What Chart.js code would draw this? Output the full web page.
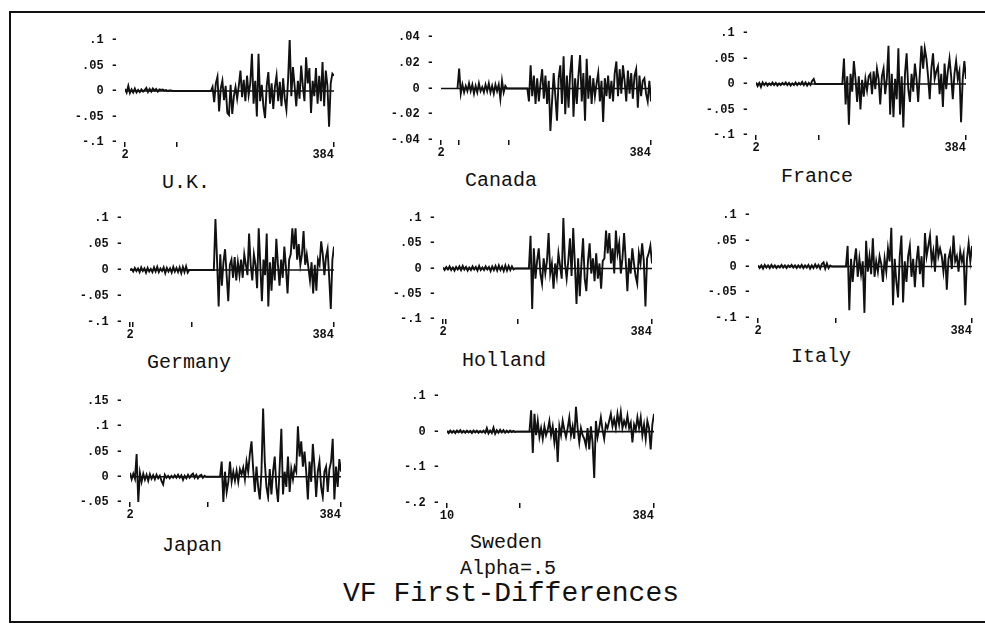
<!DOCTYPE html>
<html><head><meta charset="utf-8">
<script src="https://cdn.jsdelivr.net/npm/chart.js@4.4.0/dist/chart.umd.min.js"></script>
<style>
html,body{margin:0;padding:0;background:#fff;}
body{width:985px;height:627px;position:relative;overflow:hidden;font-family:"Liberation Mono",monospace;}
.frame{position:absolute;left:9px;top:11px;width:990px;height:608px;border-left:2px solid #111;border-top:2px solid #111;border-bottom:2px solid #111;}
canvas{position:absolute;}
.lbl{position:absolute;transform:translate(-50%,-50%);font-size:20px;color:#111;white-space:pre;line-height:1;}
.title{font-size:28px;}
</style></head><body>
<div class="frame"></div>
<script>
// ---- data (time index t; quiet values every 3 steps from qStart, active values every 3 steps from aStart)
const ukQuiet = [0.004,-0.003,0.010,-0.004,0.003,-0.003,0.005,-0.003,0.002,-0.002,0.003,-0.001,0.002,0.006,-0.002,0.004,-0.001,0.005,0.001,0.004,-0.001,0.003,0.002,0.003,0.001,0.002,0.000,0.001,0.001,0];
const ukActive = [0,0.008,-0.022,0.015,0.028,-0.040,0.005,0.020,-0.018,0.010,-0.043,-0.047,0.012,-0.045,-0.010,0.008,-0.015,0.010,0.040,-0.012,0.022,-0.020,0.030,-0.008,0.015,0.073,-0.025,0.020,-0.050,0.073,-0.020,0.012,-0.030,-0.053,0.010,0.037,-0.025,0.015,-0.035,0.008,0.030,-0.020,0.018,-0.030,0.025,-0.015,-0.037,0.020,0.102,-0.010,0.047,0.010,-0.030,0.020,-0.015,0.050,0.010,-0.020,0.066,0.015,0.045,-0.043,0.020,-0.010,0.045,-0.025,0.030,-0.020,0.057,-0.030,0.040,0.010,-0.070,0.015,0.034,0.030];

const canadaQuiet = [0,0.0155,-0.004,0.003,-0.003,0.002,-0.002,0.004,-0.002,0.003,-0.004,0.002,-0.003,0.004,-0.002,0.001,-0.003,0.003,-0.002,0.004,-0.003,0.002,-0.004,0.003,-0.002,0.003,-0.008,0.006,-0.003,0.002,0];
const canadaActive = [0,-0.010,0.018,-0.006,0.010,-0.012,0.008,-0.010,0.004,0.015,-0.008,0.010,-0.012,0.006,-0.033,-0.010,0.012,-0.006,-0.025,0.008,0.018,-0.012,0.025,-0.020,0.010,-0.015,0.012,0.026,-0.022,0.008,-0.012,0.010,0.026,-0.010,0.012,-0.025,0.023,-0.008,0.010,-0.012,0.008,-0.006,0.004,0.012,-0.010,0.006,-0.026,0.008,-0.006,0.010,-0.008,0.006,-0.010,0.012,0.021,-0.006,0.015,-0.004,0.018,0.006,-0.010,0.014,-0.004,0.012,-0.008,0.010,0.015,-0.015,0.010,-0.006,0.006,0.008,-0.004,-0.010,0.006,-0.010];

const franceQuiet = [0.003,-0.004,0.002,-0.006,0.003,-0.002,0.002,-0.003,0.001,-0.002,0.003,-0.002,0.002,-0.003,0.001,-0.002,0.002,-0.001,0.003,-0.002,0.002,-0.003,0.001,-0.002,0.003,-0.002,0.002,-0.001,0.004,-0.002,0.003,-0.003,0.002,-0.002,0.006,0.010,0];
const franceActive = [0,0.050,-0.040,0.015,-0.080,0.020,-0.015,0.045,0.010,-0.035,0.015,-0.050,0.008,-0.025,0.010,-0.012,0.015,0.020,-0.020,0.025,-0.010,0.030,0.010,-0.040,0.015,0.030,-0.020,0.010,0.075,-0.060,0.020,-0.065,0.010,-0.030,0.070,-0.060,0.015,-0.085,0.020,0.060,-0.010,-0.035,0.020,-0.015,0.040,0.010,-0.035,0.020,0.075,0.030,0.070,0.050,0.015,-0.030,0.030,0.060,0.010,0.025,0.035,-0.020,0.020,-0.045,0.040,-0.010,0.025,0.050,0.015,-0.030,0.020,0.045,0.010,0.025,-0.075,0.010,0.045,0.010];

const germanyQuiet = [0,0.002,-0.003,0.004,-0.002,0.003,-0.004,0.005,-0.002,0.003,-0.005,0.004,-0.003,0.002,-0.004,0.005,-0.003,0.006,-0.004,0.003,-0.002,0.005,-0.006,0.004,-0.003,0.003,-0.005,0.006,-0.003,0.004,-0.004,0.005,-0.006,0.006,-0.004,0.007,-0.005,0];
const germanyActive = [0,0.098,0.020,-0.070,0.030,-0.030,0.015,0.040,-0.010,-0.060,0.010,0.020,-0.015,0.025,-0.020,0.015,-0.010,0.020,-0.015,0.030,0.010,-0.010,0.070,0.010,-0.020,0.030,0.010,-0.035,0.080,0.010,-0.060,0.020,-0.010,0.070,-0.070,0.015,-0.040,0.025,-0.020,0.060,0.010,-0.030,0.020,-0.015,0.045,0.005,-0.045,0.020,0.030,0.080,0.040,0.080,0.020,0.050,0.010,0.030,0.075,0.010,0.030,0.005,-0.020,0.015,-0.045,0.010,-0.040,0.020,0.010,0.055,0.030,-0.010,0.025,0.040,-0.015,-0.075,0.020,0.045];

const hollandQuiet = [0.002,-0.003,0.003,-0.002,0.004,-0.003,0.002,-0.004,0.003,-0.002,0.004,-0.003,0.005,-0.002,0.003,-0.004,0.002,-0.003,0.004,-0.002,0.003,-0.004,0.005,-0.003,0.002,-0.003,0.004,-0.002,0.003,-0.005,0.004,-0.003,0.005,-0.004,0.006,-0.003,0.004,-0.005,0.006,-0.004,0.005,-0.003,0.004,-0.002,0];
const hollandActive = [0,0.065,-0.080,0.040,-0.020,0.015,0.040,-0.010,-0.030,0.020,-0.010,0.015,0.070,-0.010,0.010,-0.040,0.010,-0.015,0.030,0.005,-0.020,0.100,0.010,-0.020,0.015,0.060,-0.015,0.080,0.010,-0.070,0.020,-0.055,0.010,0.060,-0.020,-0.045,0.015,0.050,-0.010,0.020,-0.025,0.030,-0.020,0.010,-0.040,0.015,0.020,0.075,0.030,0.070,0.010,0.040,-0.010,0.075,0.030,0.050,-0.010,0.020,0.070,0.015,-0.045,0.020,-0.010,0.040,0.010,-0.015,-0.030,0.030,0.010,0.050,0.015,-0.075,0.020,0.030,0.045,0.010];

const italyQuiet = [0.002,-0.003,0.002,-0.004,0.003,-0.002,0.002,-0.003,0.003,-0.002,0.002,-0.003,0.001,-0.002,0.003,-0.002,0.002,-0.003,0.002,-0.001,0.003,-0.002,0.002,-0.003,0.002,-0.002,0.003,-0.003,0.002,-0.002,0.003,-0.004,0.002,-0.003,0.004,-0.002,0.003,-0.004,0.005,0.008,-0.004,0.006,-0.003,0.002,0];
const italyActive = [0,0.040,-0.085,0.015,-0.030,0.010,0.035,-0.020,0.015,-0.015,0.010,-0.090,0.050,-0.010,0.020,-0.015,0.055,-0.020,0.010,-0.010,0.020,0.005,-0.030,0.015,-0.010,0.035,0.010,0.075,-0.075,0.015,-0.030,-0.060,0.020,0.060,-0.070,0.010,-0.030,0.020,0.040,-0.020,0.015,-0.040,0.010,0.040,-0.015,0.020,-0.040,0.065,0.020,0.040,0.060,0.010,0.030,-0.010,0.060,0.020,0.035,0.020,-0.010,0.025,-0.045,0.015,0.030,-0.005,0.060,0.010,0.020,-0.010,0.030,0.010,0.025,-0.075,0.015,0.045,0.010,0.040];

const japanQuiet = [0.008,-0.005,0.006,-0.004,0.045,-0.050,0.008,-0.010,0.006,-0.006,0.004,-0.008,0.005,-0.004,0.003,-0.005,0.004,-0.003,0.002,-0.008,-0.015,0.004,-0.002,0.002,-0.003,0.002,-0.002,0.003,-0.002,0.004,-0.002,0.003,-0.006,0.002,-0.003,0.004,-0.002,0.003,0.006,-0.002,0.004,-0.003,0.002,0.004,-0.002,0.002,0];
const japanActive = [0,0.030,-0.050,0.010,-0.030,-0.010,0.030,-0.010,0.010,-0.008,0.012,-0.010,0.015,0.005,0.018,-0.005,0.030,0.010,0.045,0.070,0.015,-0.030,0.020,-0.020,-0.045,0.010,0.135,0.030,-0.020,-0.040,0.015,-0.035,0.010,0.040,-0.020,-0.050,0.020,0.095,-0.035,0.010,-0.020,0.040,-0.030,0.015,-0.005,0.020,0.010,0.100,0.040,0.070,0.020,0.050,0.010,-0.045,0.030,-0.010,0.065,0.020,-0.040,0.010,0.030,-0.020,-0.040,0.010,0.020,-0.030,0.015,0.030,0.075,-0.045,0.020,-0.020,0.035,0.010];

const swedenQuiet = [0.002,-0.004,0.003,-0.003,0.002,-0.004,0.003,-0.002,0.004,-0.003,0.002,-0.003,0.003,-0.002,0.002,-0.004,0.003,-0.002,0.003,-0.003,0.002,-0.002,0.003,-0.003,0.010,-0.005,0.003,-0.004,0.011,-0.006,0.004,-0.003,0.005,-0.002,0.004,-0.003,0.003,-0.002,0.003,-0.001,0.002,-0.001,0];
const swedenActive = [0,0.060,-0.060,0.050,-0.010,0.030,-0.015,0.010,-0.020,0.015,-0.010,0.005,0.030,-0.010,0.015,-0.030,0.010,-0.085,0.015,-0.010,0.030,0.005,-0.015,0.010,0.040,-0.010,0.015,-0.020,0.070,0.010,-0.030,0.010,-0.010,-0.020,-0.040,0.010,-0.050,0.015,-0.030,-0.130,0.030,-0.015,0.010,0.040,0.005,-0.020,0.020,0.010,0.030,0.050,0.015,0.035,0.010,0.050,0.020,0.055,0.010,0.030,0.015,0.045,0.010,0.025,-0.030,0.020,0.005,0.040,0.010,0.040,-0.010,0.020,-0.020,0.030,0.010,-0.050,0.020,0.050];

// tick values
const yTicks10 = [-0.1,-0.05,0,0.05,0.1];
const yTicksCanada = [-0.04,-0.02,0,0.02,0.04];
const yTicksJapan = [-0.05,0,0.05,0.1,0.15];
const yTicksSweden = [-0.2,-0.1,0,0.1];
const xTicksUK = [2,97,384];
const xTicksCanada = [2,35,126,384];
const xTicksFrance = [2,117,384];
const xTicksGermany = [2,7,117,384];
const xTicksHolland = [2,7,139,384];
const xTicksItaly = [2,140,384];
const xTicksJapan = [2,142,384];
const xTicksSweden = [10,142,384];
const STEP = 3;

// ---- layout (pixel placement of each panel: plot left, right, top, bottom; label centre)
const panels = [
  {name:'U.K.',    quiet:ukQuiet,      qStart:2,  active:ukActive,      aStart:159, yT:yTicks10,     xT:xTicksUK,      rect:[125,334,40,142], lab:[186,183]},
  {name:'Canada',  quiet:canadaQuiet,  qStart:32, active:canadaActive,  aStart:159, yT:yTicksCanada, xT:xTicksCanada,  rect:[441,651,37,140], lab:[501,181]},
  {name:'France',  quiet:franceQuiet,  qStart:2,  active:franceActive,  aStart:159, yT:yTicks10,     xT:xTicksFrance,  rect:[756,966,33,135], lab:[817,177]},
  {name:'Germany', quiet:germanyQuiet, qStart:2,  active:germanyActive, aStart:159, yT:yTicks10,     xT:xTicksGermany, rect:[130,334,218,322], lab:[189,363]},
  {name:'Holland', quiet:hollandQuiet, qStart:2,  active:hollandActive, aStart:159, yT:yTicks10,     xT:xTicksHolland, rect:[443,652,218,319], lab:[504,361]},
  {name:'Italy',   quiet:italyQuiet,   qStart:2,  active:italyActive,   aStart:159, yT:yTicks10,     xT:xTicksItaly,   rect:[758,972,215,318], lab:[821,357]},
  {name:'Japan',   quiet:japanQuiet,   qStart:2,  active:japanActive,   aStart:165, yT:yTicksJapan,  xT:xTicksJapan,   rect:[130,341,401,502], lab:[192,546]},
  {name:'Sweden',  quiet:swedenQuiet,  qStart:10, active:swedenActive,  aStart:159, yT:yTicksSweden, xT:xTicksSweden,  rect:[447,654,396,503], lab:[506,543]}
];
const extraText = [
  {text:'Alpha=.5', x:508, y:569, cls:''},
  {text:'VF First-Differences', x:511, y:594, cls:'title'}
];

Chart.defaults.font.family = '"Liberation Mono", monospace';
Chart.defaults.color = '#111';

const Y_W = 70, PAD_T = 10, PAD_R = 16, X_H = 26;
function fmtY(v){
  if (v === 0) return '0 -';
  const s = String(Math.abs(v)).replace(/^0/, '');
  return (v < 0 ? '-' : '') + s + ' -';
}
const zeroLine = {
  id:'zeroLine',
  beforeDatasetsDraw(c){
    const y = c.scales.y.getPixelForValue(0);
    const ctx = c.ctx;
    ctx.save();
    ctx.strokeStyle = '#111'; ctx.lineWidth = 1.6;
    ctx.beginPath(); ctx.moveTo(c.chartArea.left, y); ctx.lineTo(c.chartArea.right, y); ctx.stroke();
    ctx.restore();
  }
};

panels.forEach(p => {
  const [l, r, t, b] = p.rect;
  const w = (r - l) + Y_W + PAD_R, h = (b - t) + PAD_T + X_H;
  const cv = document.createElement('canvas');
  cv.width = w; cv.height = h;
  cv.style.left = (l - Y_W) + 'px'; cv.style.top = (t - PAD_T) + 'px';
  cv.style.width = w + 'px'; cv.style.height = h + 'px';
  document.body.appendChild(cv);
  const pts = [];
  p.quiet.forEach((v, k) => pts.push({x: p.qStart + STEP * k, y: v}));
  p.active.forEach((v, k) => pts.push({x: p.aStart + STEP * k, y: v}));
  const xFirst = p.xT[0], xLast = p.xT[p.xT.length - 1];
  new Chart(cv, {
    type:'line',
    data:{datasets:[{data:pts, borderColor:'#111', borderWidth:1.9, pointRadius:0, tension:0, fill:false, borderJoinStyle:'miter'}]},
    options:{
      responsive:false, animation:false, devicePixelRatio:1, events:[],
      layout:{padding:{top:PAD_T, right:PAD_R, left:0, bottom:0}},
      plugins:{legend:{display:false}, tooltip:{enabled:false}},
      scales:{
        x:{type:'linear', min:xFirst, max:xLast,
           border:{display:false},
           grid:{display:true, drawOnChartArea:false, drawTicks:true, tickLength:5, color:'#111', lineWidth:1.5},
           afterBuildTicks:s => { s.ticks = p.xT.map(v => ({value:v})); },
           ticks:{autoSkip:false, maxRotation:0, minRotation:0, padding:1, color:'#111', font:{size:12, weight:'bold'},
                  callback:v => v === xFirst ? String(v) : (v === xLast ? String(v) + '   ' : '')},
           afterFit:s => { s.height = X_H; s.paddingLeft = 0; s.paddingRight = 0; }},
        y:{type:'linear', min:p.yT[0], max:p.yT[p.yT.length - 1],
           border:{display:false},
           grid:{display:false, drawTicks:false},
           afterBuildTicks:s => { s.ticks = p.yT.map(v => ({value:v})); },
           ticks:{padding:7, color:'#111', font:{size:12, weight:'bold'}, callback:v => fmtY(v)},
           afterFit:s => { s.width = Y_W; s.paddingTop = 0; s.paddingBottom = 0; }}
      }
    },
    plugins:[zeroLine]
  });
  const d = document.createElement('div');
  d.className = 'lbl'; d.textContent = p.name;
  d.style.left = p.lab[0] + 'px'; d.style.top = p.lab[1] + 'px';
  document.body.appendChild(d);
});
extraText.forEach(e => {
  const d = document.createElement('div');
  d.className = 'lbl ' + e.cls; d.textContent = e.text;
  d.style.left = e.x + 'px'; d.style.top = e.y + 'px';
  document.body.appendChild(d);
});
</script>
</body></html>
